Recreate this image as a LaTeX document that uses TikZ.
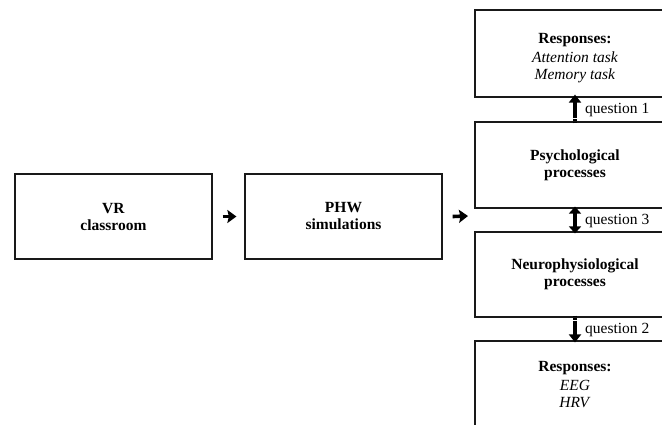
\documentclass[tikz,border=0pt]{standalone}
\usepackage{fontspec}
\setmainfont{Liberation Serif}
\usetikzlibrary{arrows.meta,calc}
\begin{document}
\begin{tikzpicture}[x=1pt,y=-1pt,
  every node/.style={font=\fontsize{15.5}{17}\selectfont},
  box/.style={draw=black!90,line width=1.2pt,minimum width=197pt,inner sep=0pt,align=center},
  rbox/.style={draw=black!90,line width=1.2pt,minimum width=200pt,inner sep=0pt,align=center},
  harrow/.style={line width=3.6pt,-{Stealth[inset=1.5pt,width=13pt,length=9pt]}},
  varrow/.style={line width=3.6pt,dash pattern=on 1.5pt off 1pt on 1.5pt off 1pt on 20pt,-{Triangle[width=12pt,length=8pt]}},
  darrow/.style={line width=4pt,{Triangle[width=12pt,length=7pt]}-{Triangle[width=12pt,length=7pt]}},
  qlabel/.style={anchor=west,inner sep=0pt}]
\useasboundingbox (0,0) rectangle (662,424);
\clip (0,0) rectangle (662,424);
\node[box,minimum height=85pt] (vr) at (113.5,216.5) {\textbf{VR}\\\textbf{classroom}};
\node[box,minimum height=85pt] (phw) at (343.5,216.5) {\textbf{PHW}\\\textbf{simulations}};
\node[rbox,minimum height=87pt] (r1) at (575,53.5) {};
\node (r1t) at (575,58) [align=center,inner sep=0pt] {\textbf{Responses:}\\[2pt]\textit{Attention task}\\\textit{Memory task}};
\node[rbox,minimum height=86pt] (psy) at (575,165) {\textbf{Psychological}\\\textbf{processes}};
\node[rbox,minimum height=85pt] (neu) at (575,274.5) {\textbf{Neurophysiological}\\\textbf{processes}};
\node[rbox,minimum height=87pt] (r2) at (575,384.5) {\textbf{Responses:}\\[2pt]\textit{EEG}\\\textit{HRV}};
\coordinate (col) at (475,216);
\draw[harrow] ([xshift=10pt]vr.east) -- ([xshift=-8pt]phw.west);
\draw[harrow] ([xshift=10pt]phw.east) -- ([xshift=-7pt]col);
\draw[varrow] ([yshift=-2pt]psy.north) -- ([yshift=3pt]r1.south);
\draw[darrow] ([yshift=2pt]psy.south) -- ([yshift=-2pt]neu.north);
\draw[varrow] ([yshift=2pt]neu.south) -- ([yshift=-2pt]r2.north);
\node[qlabel] (q1) at ($(r1.south)+(10,12)$) {question 1};
\node[qlabel] (q3) at ($(psy.south)+(10,12)$) {question 3};
\node[qlabel] (q2) at ($(neu.south)+(10,12)$) {question 2};
\end{tikzpicture}
\end{document}
